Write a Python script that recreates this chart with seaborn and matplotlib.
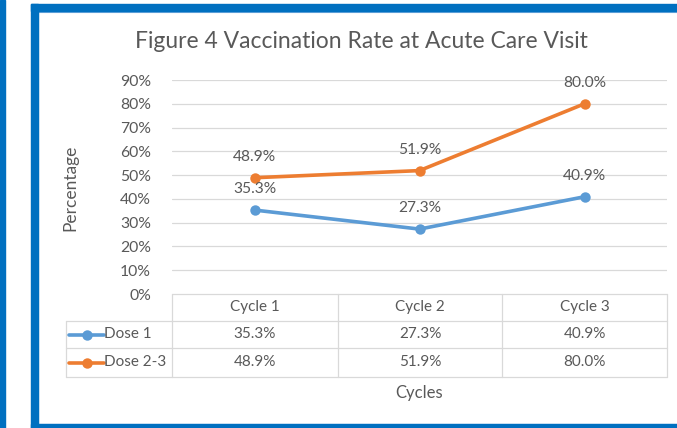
import matplotlib
matplotlib.use("Agg")
import matplotlib.pyplot as plt
from matplotlib.patches import Rectangle
from matplotlib.lines import Line2D
from matplotlib.ticker import PercentFormatter
import seaborn as sns
import pandas as pd

# ---- data ----
cycles = ["Cycle 1", "Cycle 2", "Cycle 3"]
series_names = ["Dose 1", "Dose 2-3"]
dose1 = [0.353, 0.273, 0.409]
dose23 = [0.489, 0.519, 0.800]
yticks = [0.0, 0.1, 0.2, 0.3, 0.4, 0.5, 0.6, 0.7, 0.8, 0.9]
title = "Figure 4 Vaccination Rate at Acute Care Visit"
ylabel = "Percentage"
xlabel = "Cycles"

colors = {"Dose 1": "#5B9BD5", "Dose 2-3": "#ED7D31"}
TXT = "#595959"
GRID = "#D9D9D9"
BLUE = "#0070C0"

df = pd.DataFrame({
    "cycle": cycles * 2,
    "value": dose1 + dose23,
    "series": [series_names[0]] * 3 + [series_names[1]] * 3,
})

sns.set_theme(style="white")
plt.rcParams["font.family"] = ["Lato", "DejaVu Sans"]

W, H = 677, 428
fig = plt.figure(figsize=(W / 100, H / 100), dpi=100)
fig.patch.set_facecolor("white")


def fx(x):
    return x / W


def fy(y):
    return 1 - y / H


# frame decorations
fig.patches.append(Rectangle((fx(0), 0), fx(5), 1, transform=fig.transFigure, color=BLUE, zorder=0))
fig.patches.append(Rectangle((fx(31), fy(428)), fx(7), 424 / H, transform=fig.transFigure, color=BLUE, zorder=0))
fig.patches.append(Rectangle((fx(31), fy(11)), 1 - fx(31), 7 / H, transform=fig.transFigure, color=BLUE, zorder=0))
fig.patches.append(Rectangle((fx(31), fy(428)), 1 - fx(31), 4 / H, transform=fig.transFigure, color=BLUE, zorder=0))
for seg in [((38, 38), (11, 424)), ((38, 677), (11.5, 11.5)), ((38, 677), (423.5, 423.5))]:
    fig.lines.append(Line2D([fx(v) for v in seg[0]], [fy(v) for v in seg[1]],
                            transform=fig.transFigure, color="#6FA8DC", lw=0.8, zorder=0))

# plot area
x0, x1, ytop, ybot = 172, 667, 80, 294
ax = fig.add_axes([fx(x0), fy(ybot), fx(x1 - x0), (ybot - ytop) / H])
sns.lineplot(data=df, x="cycle", y="value", hue="series", palette=colors,
             marker="o", markersize=7.5, markeredgewidth=0, linewidth=2.6,
             legend=False, ax=ax, zorder=3)
ax.set_xlim(-0.5, len(cycles) - 0.5)
ax.set_ylim(0, 0.9)
ax.set_yticks(yticks)
ax.yaxis.set_major_formatter(PercentFormatter(1.0, decimals=0))
ax.tick_params(axis="y", length=0, pad=15, labelsize=11.3, labelcolor=TXT)
ax.set_xticks([])
ax.set_xlabel("")
ax.set_ylabel("")
for s in ax.spines.values():
    s.set_visible(False)
for t in yticks[1:]:
    ax.axhline(t, color=GRID, lw=0.9, zorder=1)
ax.set_facecolor("none")

# data labels
for name, vals in zip(series_names, [dose1, dose23]):
    for i, v in enumerate(vals):
        ax.annotate(f"{v * 100:.1f}%", (i, v), xytext=(0, 15), textcoords="offset points",
                    ha="center", va="center", fontsize=11.2, color=TXT)

# title & axis titles
fig.text(fx(361), fy(42), title, ha="center", va="center", fontsize=16.5, color=TXT)
fig.text(fx(70), fy(188), ylabel, ha="center", va="center", rotation=90, fontsize=12.5, color=TXT)
fig.text(fx(419), fy(393), xlabel, ha="center", va="center", fontsize=12, color=TXT)

# data table
col_edges = [172, 338, 502, 667]
row_edges = [294, 321, 348, 377]
leg_left = 66


def hline(xa, xb, y):
    fig.lines.append(Line2D([fx(xa), fx(xb)], [fy(y), fy(y)], transform=fig.transFigure, color=GRID, lw=0.9))


def vline(x, ya, yb):
    fig.lines.append(Line2D([fx(x), fx(x)], [fy(ya), fy(yb)], transform=fig.transFigure, color=GRID, lw=0.9))


hline(col_edges[0], col_edges[-1], row_edges[0])
for y in row_edges[1:]:
    hline(leg_left, col_edges[-1], y)
vline(leg_left, row_edges[1], row_edges[-1])
for x in col_edges:
    vline(x, row_edges[0], row_edges[-1])

for j, c in enumerate(cycles):
    xc = (col_edges[j] + col_edges[j + 1]) / 2
    fig.text(fx(xc), fy((row_edges[0] + row_edges[1]) / 2), c, ha="center", va="center", fontsize=11, color=TXT)

for r, (name, vals) in enumerate(zip(series_names, [dose1, dose23])):
    yc = (row_edges[r + 1] + row_edges[r + 2]) / 2
    fig.lines.append(Line2D([fx(69), fx(104)], [fy(yc), fy(yc)], transform=fig.transFigure,
                            color=colors[name], lw=2.6))
    fig.lines.append(Line2D([fx(86.5)], [fy(yc)], transform=fig.transFigure, color=colors[name],
                            marker="o", markersize=7.5, markeredgewidth=0, lw=0))
    fig.text(fx(104), fy(yc), name, ha="left", va="center", fontsize=11, color=TXT)
    for j, v in enumerate(vals):
        xc = (col_edges[j] + col_edges[j + 1]) / 2
        fig.text(fx(xc), fy(yc), f"{v * 100:.1f}%", ha="center", va="center", fontsize=11, color=TXT)

fig.savefig("out.png", dpi=100, facecolor="white")
